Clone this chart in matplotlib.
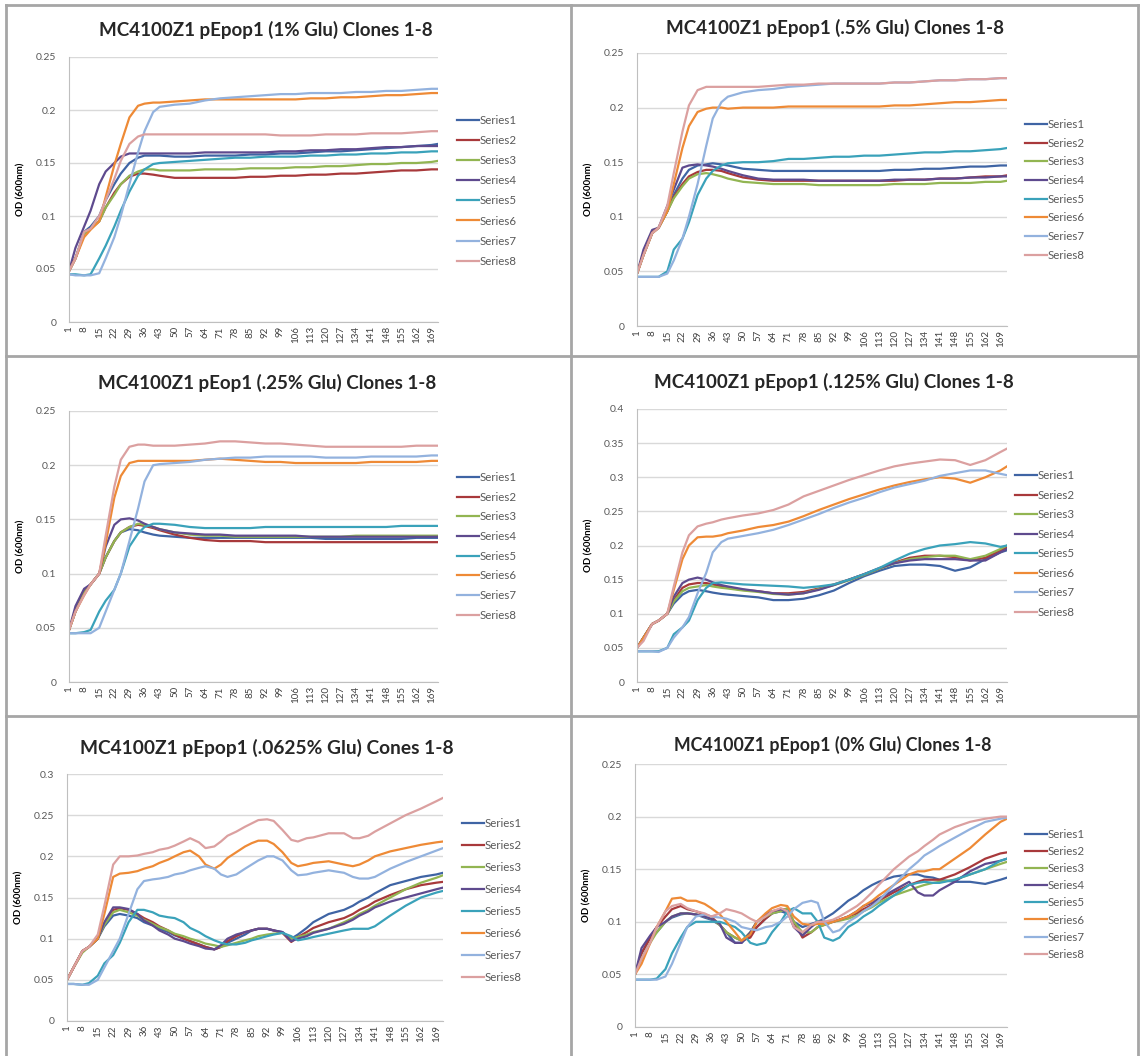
import matplotlib
matplotlib.use("Agg")
from matplotlib import pyplot as plt
from matplotlib.lines import Line2D

plt.rcParams['font.family'] = ['Lato', 'DejaVu Sans']

W, H = 1143, 1056

# time points (read at these positions)
X_A = [1, 4, 8, 11, 15, 18, 22, 25, 29, 33, 36, 40, 43, 50, 57, 64, 71, 78, 85, 92,
       99, 106, 113, 120, 127, 134, 141, 148, 155, 162, 169, 172]
X_B = [1, 4, 8, 11, 15, 18, 22, 25, 29, 33, 36, 40, 43, 47, 50, 54, 57, 61, 64, 68,
       71, 74, 78, 82, 85, 88, 92, 95, 99, 103, 106, 110, 113, 120, 127, 131, 134, 138,
       141, 148, 155, 162, 169, 172]
X_TICKS = list(range(1, 170, 7))
SERIES = ['Series1', 'Series2', 'Series3', 'Series4', 'Series5', 'Series6', 'Series7', 'Series8']
COLORS = ['#3F64A4', '#A8393B', '#92B552', '#5E4A8E', '#3AA2BA', '#EE8A36', '#93B2DE', '#DBA0A0']

# 1% Glu
g1_s1 = [0.048, 0.06, 0.085, 0.09, 0.1, 0.115, 0.13, 0.14, 0.15, 0.155, 0.157, 0.157, 0.157, 0.156, 0.156, 0.157,
         0.157, 0.157, 0.158, 0.158, 0.159, 0.159, 0.16, 0.161, 0.161, 0.162, 0.163, 0.164, 0.165, 0.166, 0.167, 0.168]
g1_s2 = [0.048, 0.06, 0.083, 0.088, 0.095, 0.108, 0.122, 0.13, 0.137, 0.14, 0.14, 0.139, 0.138, 0.136, 0.136, 0.136,
         0.136, 0.136, 0.137, 0.137, 0.138, 0.138, 0.139, 0.139, 0.14, 0.14, 0.141, 0.142, 0.143, 0.143, 0.144, 0.144]
g1_s3 = [0.048, 0.06, 0.083, 0.088, 0.095, 0.108, 0.12, 0.13, 0.138, 0.142, 0.144, 0.144, 0.143, 0.143, 0.143, 0.144,
         0.144, 0.144, 0.145, 0.145, 0.145, 0.146, 0.146, 0.147, 0.147, 0.148, 0.149, 0.149, 0.15, 0.15, 0.151, 0.152]
g1_s4 = [0.048, 0.07, 0.09, 0.105, 0.13, 0.142, 0.15, 0.156, 0.159, 0.159, 0.159, 0.159, 0.159, 0.159, 0.159, 0.16,
         0.16, 0.16, 0.16, 0.16, 0.161, 0.161, 0.162, 0.162, 0.163, 0.163, 0.164, 0.165, 0.165, 0.166, 0.166, 0.166]
g1_s5 = [0.045, 0.045, 0.044, 0.045, 0.06, 0.072, 0.09, 0.105, 0.123, 0.138, 0.144, 0.149, 0.15, 0.151, 0.152, 0.153,
         0.154, 0.155, 0.155, 0.156, 0.156, 0.156, 0.157, 0.157, 0.158, 0.158, 0.159, 0.159, 0.16, 0.16, 0.161, 0.161]
g1_s6 = [0.048, 0.06, 0.08, 0.087, 0.095, 0.118, 0.148, 0.168, 0.193, 0.204, 0.206, 0.207, 0.207, 0.208, 0.209, 0.21,
         0.21, 0.21, 0.21, 0.21, 0.21, 0.21, 0.211, 0.211, 0.212, 0.212, 0.213, 0.214, 0.214, 0.215, 0.216, 0.216]
g1_s7 = [0.045, 0.044, 0.044, 0.044, 0.046, 0.06, 0.08, 0.1, 0.13, 0.16, 0.18, 0.198, 0.203, 0.205, 0.206, 0.209,
         0.211, 0.212, 0.213, 0.214, 0.215, 0.215, 0.216, 0.216, 0.216, 0.217, 0.217, 0.218, 0.218, 0.219, 0.22, 0.22]
g1_s8 = [0.048, 0.06, 0.085, 0.088, 0.1, 0.115, 0.135, 0.152, 0.168, 0.175, 0.177, 0.177, 0.177, 0.177, 0.177, 0.177,
         0.177, 0.177, 0.177, 0.177, 0.176, 0.176, 0.176, 0.177, 0.177, 0.177, 0.178, 0.178, 0.178, 0.179, 0.18, 0.18]

# .5% Glu
g2_s1 = [0.048, 0.065, 0.085, 0.09, 0.105, 0.12, 0.135, 0.143, 0.147, 0.148, 0.149, 0.148, 0.147, 0.144, 0.143, 0.142,
         0.142, 0.142, 0.142, 0.142, 0.142, 0.142, 0.142, 0.143, 0.143, 0.144, 0.144, 0.145, 0.146, 0.146, 0.147, 0.147]
g2_s2 = [0.048, 0.065, 0.085, 0.09, 0.105, 0.118, 0.13, 0.137, 0.141, 0.143, 0.143, 0.142, 0.14, 0.136, 0.134, 0.133,
         0.133, 0.133, 0.133, 0.133, 0.133, 0.133, 0.133, 0.133, 0.134, 0.134, 0.135, 0.135, 0.136, 0.137, 0.137, 0.138]
g2_s3 = [0.048, 0.065, 0.085, 0.09, 0.105, 0.117, 0.128, 0.135, 0.139, 0.14, 0.139, 0.137, 0.135, 0.132, 0.131, 0.13,
         0.13, 0.13, 0.129, 0.129, 0.129, 0.129, 0.129, 0.13, 0.13, 0.13, 0.131, 0.131, 0.131, 0.132, 0.132, 0.133]
g2_s4 = [0.048, 0.07, 0.088, 0.09, 0.11, 0.125, 0.145, 0.147, 0.148, 0.147, 0.146, 0.144, 0.142, 0.138, 0.135, 0.134,
         0.134, 0.134, 0.133, 0.133, 0.133, 0.133, 0.133, 0.134, 0.134, 0.134, 0.135, 0.135, 0.136, 0.136, 0.137, 0.137]
g2_s5 = [0.045, 0.045, 0.045, 0.045, 0.05, 0.07, 0.08, 0.095, 0.12, 0.135, 0.142, 0.147, 0.149, 0.15, 0.15, 0.151,
         0.153, 0.153, 0.154, 0.155, 0.155, 0.156, 0.156, 0.157, 0.158, 0.159, 0.159, 0.16, 0.16, 0.161, 0.162, 0.163]
g2_s6 = [0.048, 0.065, 0.085, 0.09, 0.105, 0.13, 0.163, 0.183, 0.196, 0.199, 0.2, 0.2, 0.199, 0.2, 0.2, 0.2,
         0.201, 0.201, 0.201, 0.201, 0.201, 0.201, 0.201, 0.202, 0.202, 0.203, 0.204, 0.205, 0.205, 0.206, 0.207, 0.207]
g2_s7 = [0.045, 0.045, 0.045, 0.045, 0.048, 0.06, 0.08, 0.1, 0.13, 0.165, 0.19, 0.205, 0.21, 0.214, 0.216, 0.217,
         0.219, 0.22, 0.221, 0.222, 0.222, 0.222, 0.222, 0.223, 0.223, 0.224, 0.225, 0.225, 0.226, 0.226, 0.227, 0.227]
g2_s8 = [0.048, 0.065, 0.085, 0.09, 0.11, 0.14, 0.178, 0.202, 0.216, 0.219, 0.219, 0.219, 0.219, 0.219, 0.219, 0.22,
         0.221, 0.221, 0.222, 0.222, 0.222, 0.222, 0.222, 0.223, 0.223, 0.224, 0.225, 0.225, 0.226, 0.226, 0.227, 0.227]

# .25% Glu
g3_s1 = [0.048, 0.065, 0.085, 0.09, 0.1, 0.115, 0.13, 0.138, 0.141, 0.14, 0.138, 0.136, 0.135, 0.134, 0.133, 0.133,
         0.133, 0.133, 0.133, 0.133, 0.133, 0.133, 0.133, 0.132, 0.132, 0.132, 0.132, 0.132, 0.132, 0.133, 0.133, 0.133]
g3_s2 = [0.048, 0.065, 0.082, 0.09, 0.1, 0.115, 0.13, 0.138, 0.143, 0.145, 0.144, 0.142, 0.14, 0.136, 0.133, 0.131,
         0.13, 0.13, 0.13, 0.129, 0.129, 0.129, 0.129, 0.129, 0.129, 0.129, 0.129, 0.129, 0.129, 0.129, 0.129, 0.129]
g3_s3 = [0.048, 0.065, 0.082, 0.09, 0.1, 0.115, 0.13, 0.138, 0.143, 0.146, 0.145, 0.143, 0.141, 0.138, 0.136, 0.135,
         0.135, 0.134, 0.134, 0.134, 0.134, 0.134, 0.134, 0.134, 0.134, 0.135, 0.135, 0.135, 0.135, 0.135, 0.135, 0.135]
g3_s4 = [0.048, 0.07, 0.086, 0.09, 0.1, 0.125, 0.145, 0.15, 0.151, 0.149, 0.146, 0.143, 0.141, 0.138, 0.137, 0.136,
         0.136, 0.135, 0.135, 0.135, 0.135, 0.135, 0.134, 0.134, 0.134, 0.134, 0.134, 0.134, 0.134, 0.134, 0.134, 0.134]
g3_s5 = [0.045, 0.045, 0.046, 0.048, 0.065, 0.075, 0.085, 0.1, 0.125, 0.137, 0.143, 0.146, 0.146, 0.145, 0.143, 0.142,
         0.142, 0.142, 0.142, 0.143, 0.143, 0.143, 0.143, 0.143, 0.143, 0.143, 0.143, 0.143, 0.144, 0.144, 0.144, 0.144]
g3_s6 = [0.048, 0.065, 0.08, 0.09, 0.1, 0.128, 0.17, 0.19, 0.202, 0.204, 0.204, 0.204, 0.204, 0.204, 0.204, 0.205,
         0.206, 0.205, 0.204, 0.203, 0.203, 0.202, 0.202, 0.202, 0.202, 0.202, 0.203, 0.203, 0.203, 0.203, 0.204, 0.204]
g3_s7 = [0.045, 0.045, 0.045, 0.045, 0.05, 0.065, 0.085, 0.1, 0.13, 0.16, 0.185, 0.2, 0.201, 0.202, 0.203, 0.205,
         0.206, 0.207, 0.207, 0.208, 0.208, 0.208, 0.208, 0.207, 0.207, 0.207, 0.208, 0.208, 0.208, 0.208, 0.209, 0.209]
g3_s8 = [0.048, 0.065, 0.08, 0.09, 0.1, 0.135, 0.18, 0.205, 0.217, 0.219, 0.219, 0.218, 0.218, 0.218, 0.219, 0.22,
         0.222, 0.222, 0.221, 0.22, 0.22, 0.219, 0.218, 0.217, 0.217, 0.217, 0.217, 0.217, 0.217, 0.218, 0.218, 0.218]

# .125% Glu
g4_s1 = [0.05, 0.065, 0.085, 0.09, 0.1, 0.115, 0.128, 0.133, 0.135, 0.133, 0.131, 0.129, 0.128, 0.126, 0.124, 0.12,
         0.12, 0.122, 0.127, 0.134, 0.145, 0.155, 0.163, 0.17, 0.172, 0.172, 0.17, 0.163, 0.168, 0.18, 0.19, 0.193]
g4_s2 = [0.05, 0.065, 0.085, 0.09, 0.1, 0.12, 0.138, 0.143, 0.145, 0.145, 0.143, 0.14, 0.138, 0.135, 0.133, 0.13,
         0.13, 0.132, 0.137, 0.143, 0.15, 0.158, 0.166, 0.175, 0.182, 0.185, 0.185, 0.183, 0.178, 0.182, 0.193, 0.197]
g4_s3 = [0.05, 0.065, 0.085, 0.09, 0.1, 0.118, 0.133, 0.138, 0.14, 0.142, 0.14, 0.138, 0.137, 0.134, 0.132, 0.129,
         0.128, 0.13, 0.136, 0.142, 0.149, 0.157, 0.166, 0.174, 0.18, 0.183, 0.185, 0.185, 0.18, 0.185, 0.195, 0.2]
g4_s4 = [0.05, 0.065, 0.085, 0.09, 0.1, 0.125, 0.145, 0.15, 0.153, 0.15, 0.146, 0.142, 0.14, 0.136, 0.133, 0.13,
         0.128, 0.13, 0.135, 0.142, 0.15, 0.158, 0.167, 0.174, 0.178, 0.18, 0.18, 0.18, 0.178, 0.178, 0.19, 0.195]
g4_s5 = [0.045, 0.045, 0.045, 0.045, 0.05, 0.07, 0.08, 0.09, 0.12, 0.138, 0.145, 0.146, 0.145, 0.143, 0.142, 0.141,
         0.14, 0.138, 0.14, 0.143, 0.15, 0.158, 0.167, 0.178, 0.188, 0.195, 0.2, 0.202, 0.205, 0.203, 0.198, 0.2]
g4_s6 = [0.05, 0.065, 0.085, 0.09, 0.1, 0.135, 0.18, 0.2, 0.212, 0.213, 0.213, 0.215, 0.218, 0.222, 0.227, 0.23,
         0.235, 0.243, 0.252, 0.26, 0.268, 0.275, 0.282, 0.288, 0.293, 0.297, 0.3, 0.298, 0.292, 0.3, 0.31, 0.316]
g4_s7 = [0.045, 0.045, 0.045, 0.044, 0.05, 0.065, 0.08, 0.095, 0.13, 0.16, 0.19, 0.205, 0.21, 0.214, 0.218, 0.223,
         0.23, 0.238, 0.246, 0.255, 0.263, 0.27, 0.278, 0.285, 0.29, 0.295, 0.302, 0.306, 0.31, 0.31, 0.305, 0.303]
g4_s8 = [0.05, 0.06, 0.085, 0.09, 0.1, 0.14, 0.19, 0.215, 0.228, 0.232, 0.234, 0.238, 0.24, 0.244, 0.247, 0.252,
         0.26, 0.272, 0.28, 0.288, 0.296, 0.303, 0.31, 0.316, 0.32, 0.323, 0.326, 0.325, 0.318, 0.325, 0.337, 0.342]

# .0625% Glu
g5_s1 = [0.05, 0.065, 0.085, 0.09, 0.1, 0.115, 0.128, 0.13, 0.128, 0.125, 0.12, 0.116, 0.112, 0.108, 0.104, 0.1,
         0.097, 0.093, 0.09, 0.087, 0.09, 0.095, 0.1, 0.105, 0.11, 0.112, 0.112, 0.11, 0.108, 0.1, 0.105, 0.113,
         0.12, 0.13, 0.135, 0.14, 0.145, 0.15, 0.155, 0.165, 0.17, 0.175, 0.178, 0.18]
g5_s2 = [0.05, 0.065, 0.085, 0.09, 0.1, 0.118, 0.135, 0.137, 0.135, 0.13, 0.125, 0.12, 0.115, 0.11, 0.105, 0.1,
         0.097, 0.093, 0.09, 0.087, 0.09, 0.097, 0.103, 0.108, 0.11, 0.112, 0.112, 0.11, 0.107, 0.096, 0.102, 0.108,
         0.113, 0.12, 0.125, 0.13, 0.135, 0.14, 0.145, 0.153, 0.16, 0.165, 0.168, 0.169]
g5_s3 = [0.05, 0.065, 0.083, 0.09, 0.1, 0.117, 0.132, 0.135, 0.132, 0.128, 0.123, 0.118, 0.114, 0.11, 0.106, 0.103,
         0.1, 0.097, 0.094, 0.092, 0.09, 0.092, 0.095, 0.098, 0.1, 0.103, 0.105, 0.106, 0.107, 0.1, 0.102, 0.105,
         0.108, 0.112, 0.12, 0.125, 0.13, 0.135, 0.14, 0.15, 0.16, 0.168, 0.174, 0.177]
g5_s4 = [0.05, 0.065, 0.085, 0.09, 0.1, 0.12, 0.138, 0.138, 0.136, 0.13, 0.122, 0.116, 0.11, 0.105, 0.1, 0.097,
         0.094, 0.091, 0.088, 0.087, 0.092, 0.1, 0.105, 0.108, 0.11, 0.112, 0.112, 0.11, 0.108, 0.097, 0.1, 0.103,
         0.107, 0.112, 0.118, 0.123, 0.128, 0.133, 0.138, 0.145, 0.15, 0.155, 0.16, 0.162]
g5_s5 = [0.045, 0.045, 0.044, 0.046, 0.055, 0.07, 0.08, 0.095, 0.12, 0.135, 0.135, 0.132, 0.128, 0.126, 0.125, 0.12,
         0.113, 0.108, 0.103, 0.098, 0.095, 0.093, 0.093, 0.095, 0.098, 0.1, 0.103, 0.105, 0.107, 0.103, 0.098, 0.1,
         0.102, 0.106, 0.11, 0.112, 0.112, 0.112, 0.115, 0.128, 0.14, 0.15, 0.156, 0.158]
g5_s6 = [0.05, 0.065, 0.085, 0.09, 0.1, 0.13, 0.175, 0.179, 0.18, 0.182, 0.185, 0.188, 0.192, 0.196, 0.2, 0.205,
         0.207, 0.2, 0.19, 0.185, 0.19, 0.198, 0.205, 0.212, 0.216, 0.219, 0.219, 0.215, 0.205, 0.192, 0.188, 0.19,
         0.192, 0.194, 0.19, 0.188, 0.19, 0.195, 0.2, 0.206, 0.21, 0.214, 0.217, 0.218]
g5_s7 = [0.045, 0.045, 0.044, 0.044, 0.05, 0.065, 0.085, 0.1, 0.13, 0.16, 0.17, 0.172, 0.173, 0.175, 0.178, 0.18,
         0.183, 0.186, 0.188, 0.185, 0.178, 0.175, 0.178, 0.185, 0.19, 0.195, 0.2, 0.2, 0.195, 0.183, 0.177, 0.178,
         0.18, 0.183, 0.18, 0.175, 0.173, 0.173, 0.175, 0.185, 0.193, 0.2, 0.207, 0.21]
g5_s8 = [0.05, 0.065, 0.085, 0.09, 0.105, 0.14, 0.19, 0.2, 0.2, 0.201, 0.203, 0.205, 0.208, 0.21, 0.213, 0.218,
         0.222, 0.217, 0.21, 0.212, 0.218, 0.225, 0.23, 0.236, 0.24, 0.244, 0.245, 0.243, 0.232, 0.22, 0.218, 0.222,
         0.223, 0.228, 0.228, 0.222, 0.222, 0.225, 0.23, 0.24, 0.25, 0.258, 0.267, 0.271]

# 0% Glu
g6_s1 = [0.05, 0.07, 0.085, 0.09, 0.1, 0.104, 0.107, 0.108, 0.107, 0.104, 0.102, 0.097, 0.09, 0.08, 0.08, 0.088,
         0.095, 0.103, 0.108, 0.11, 0.108, 0.1, 0.095, 0.098, 0.1, 0.103, 0.108, 0.113, 0.12, 0.125, 0.13, 0.135,
         0.138, 0.143, 0.145, 0.145, 0.143, 0.142, 0.14, 0.138, 0.138, 0.136, 0.14, 0.142]
g6_s2 = [0.05, 0.07, 0.085, 0.095, 0.105, 0.112, 0.115, 0.112, 0.11, 0.107, 0.105, 0.097, 0.09, 0.085, 0.082, 0.085,
         0.095, 0.103, 0.108, 0.112, 0.112, 0.1, 0.085, 0.09, 0.095, 0.097, 0.1, 0.102, 0.105, 0.108, 0.112, 0.116,
         0.12, 0.128, 0.135, 0.138, 0.14, 0.14, 0.14, 0.145, 0.152, 0.16, 0.165, 0.166]
g6_s3 = [0.05, 0.065, 0.08, 0.09, 0.1, 0.105, 0.108, 0.108, 0.107, 0.105, 0.103, 0.097, 0.09, 0.085, 0.082, 0.09,
         0.1, 0.105, 0.108, 0.11, 0.113, 0.1, 0.09, 0.09, 0.095, 0.097, 0.1, 0.101, 0.103, 0.106, 0.11, 0.114,
         0.118, 0.125, 0.13, 0.133, 0.135, 0.137, 0.138, 0.14, 0.145, 0.15, 0.155, 0.157]
g6_s4 = [0.05, 0.075, 0.087, 0.095, 0.1, 0.105, 0.108, 0.108, 0.107, 0.105, 0.103, 0.098, 0.085, 0.08, 0.08, 0.09,
         0.1, 0.107, 0.11, 0.112, 0.11, 0.095, 0.087, 0.095, 0.1, 0.1, 0.1, 0.102, 0.105, 0.11, 0.115, 0.118,
         0.122, 0.13, 0.138, 0.128, 0.125, 0.125, 0.13, 0.138, 0.148, 0.155, 0.158, 0.16]
g6_s5 = [0.045, 0.045, 0.045, 0.046, 0.055, 0.07, 0.085, 0.095, 0.1, 0.1, 0.1, 0.1, 0.098, 0.095, 0.09, 0.08,
         0.078, 0.08, 0.09, 0.1, 0.11, 0.113, 0.108, 0.108, 0.1, 0.085, 0.082, 0.085, 0.095, 0.1, 0.105, 0.11,
         0.115, 0.125, 0.135, 0.137, 0.138, 0.137, 0.137, 0.14, 0.145, 0.15, 0.158, 0.16]
g6_s6 = [0.05, 0.06, 0.08, 0.095, 0.11, 0.122, 0.123, 0.12, 0.12, 0.117, 0.113, 0.107, 0.1, 0.09, 0.082, 0.088,
         0.1, 0.108, 0.113, 0.116, 0.115, 0.105, 0.098, 0.097, 0.098, 0.098, 0.1, 0.102, 0.105, 0.11, 0.115, 0.12,
         0.125, 0.135, 0.145, 0.148, 0.148, 0.15, 0.15, 0.16, 0.17, 0.183, 0.195, 0.198]
g6_s7 = [0.045, 0.045, 0.045, 0.045, 0.048, 0.06, 0.08, 0.095, 0.105, 0.107, 0.105, 0.104, 0.103, 0.1, 0.095, 0.093,
         0.092, 0.095, 0.096, 0.1, 0.105, 0.112, 0.118, 0.12, 0.118, 0.1, 0.09, 0.092, 0.1, 0.105, 0.11, 0.115,
         0.12, 0.135, 0.15, 0.157, 0.163, 0.168, 0.172, 0.18, 0.188, 0.195, 0.198, 0.199]
g6_s8 = [0.05, 0.065, 0.08, 0.095, 0.11, 0.115, 0.117, 0.113, 0.11, 0.108, 0.105, 0.108, 0.112, 0.11, 0.108, 0.103,
         0.1, 0.105, 0.11, 0.113, 0.11, 0.095, 0.09, 0.097, 0.1, 0.1, 0.102, 0.105, 0.11, 0.115, 0.12, 0.128,
         0.135, 0.15, 0.162, 0.167, 0.172, 0.178, 0.183, 0.19, 0.195, 0.198, 0.2, 0.2]

TITLES = ['MC4100Z1 pEpop1 (1% Glu) Clones 1-8',
          'MC4100Z1 pEpop1 (.5% Glu) Clones 1-8',
          'MC4100Z1 pEop1 (.25% Glu) Clones 1-8',
          'MC4100Z1 pEpop1 (.125% Glu) Clones 1-8',
          'MC4100Z1 pEpop1 (.0625% Glu) Cones 1-8',
          'MC4100Z1 pEpop1 (0% Glu) Clones 1-8']
Y_MAX = [0.25, 0.25, 0.25, 0.4, 0.3, 0.25]


def main():
    data = [
        (X_A, [g1_s1, g1_s2, g1_s3, g1_s4, g1_s5, g1_s6, g1_s7, g1_s8]),
        (X_A, [g2_s1, g2_s2, g2_s3, g2_s4, g2_s5, g2_s6, g2_s7, g2_s8]),
        (X_A, [g3_s1, g3_s2, g3_s3, g3_s4, g3_s5, g3_s6, g3_s7, g3_s8]),
        (X_A, [g4_s1, g4_s2, g4_s3, g4_s4, g4_s5, g4_s6, g4_s7, g4_s8]),
        (X_B, [g5_s1, g5_s2, g5_s3, g5_s4, g5_s5, g5_s6, g5_s7, g5_s8]),
        (X_B, [g6_s1, g6_s2, g6_s3, g6_s4, g6_s5, g6_s6, g6_s7, g6_s8]),
    ]
    # plot boxes in pixels: left, right, top(ymax), bottom(0)
    boxes = [(69, 438, 57, 322), (637, 1007, 53, 326),
             (69, 438, 411, 682), (637, 1007, 409, 682),
             (67, 443, 774, 1021), (635, 1007, 764, 1027)]
    # title centre x, y
    title_pos = [(266, 30), (835, 28), (267, 383), (834, 382), (267, 748), (833, 745)]
    title_size = [13.5, 13.5, 13.5, 13.5, 13.8, 12.8]
    # legend: handle x, first row y, last row y
    legend_pos = [(457, 122, 280), (1025, 126, 274), (457, 479, 634),
                  (1015, 477, 631), (462, 825, 996), (1025, 836, 973)]

    fig = plt.figure(figsize=(W / 100, H / 100), dpi=100)
    fig.patch.set_facecolor('white')

    for i, (xs, series) in enumerate(data):
        l, r, t, b = boxes[i]
        ax = fig.add_axes([l / W, 1 - b / H, (r - l) / W, (b - t) / H])
        for j, ys in enumerate(series):
            ax.plot(xs, ys, color=COLORS[j], lw=1.6, label=SERIES[j])
        ax.set_xlim(1, 172)
        ax.set_ylim(0, Y_MAX[i])
        yt = [k * 0.05 for k in range(int(round(Y_MAX[i] / 0.05)) + 1)]
        ax.set_yticks(yt)
        ax.set_yticklabels(['0' if v == 0 else ('%.2f' % v).rstrip('0') for v in yt],
                           fontsize=7.5, color='#595959')
        ax.set_xticks(X_TICKS)
        ax.set_xticklabels([str(v) for v in X_TICKS], rotation=90, fontsize=7, color='#404040')
        ax.grid(axis='y', color='#D9D9D9', lw=1.0)
        ax.set_axisbelow(True)
        for s in ['top', 'right']:
            ax.spines[s].set_visible(False)
        ax.spines['left'].set_color('#BFBFBF')
        ax.spines['bottom'].set_color('#BFBFBF')
        ax.tick_params(axis='y', length=0, pad=9)
        ax.tick_params(axis='x', length=0, pad=3)
        ax.set_ylabel('OD (600nm)', fontsize=7, fontweight='bold', labelpad=8)

        tx, ty = title_pos[i]
        fig.text(tx / W, 1 - ty / H, TITLES[i], ha='center', va='center',
                 fontsize=title_size[i], fontweight='bold', color='#262626')

        hx, y1, y8 = legend_pos[i]
        fs = 8.3
        fpx = fs * 100 / 72
        row = (y8 - y1) / 7
        spacing = (row - fpx * 1.17) / fpx
        ax.legend(loc='upper left', bbox_to_anchor=(hx / W, 1 - (y1 - fpx * 0.6) / H),
                  bbox_transform=fig.transFigure, frameon=False, fontsize=fs,
                  handlelength=1.9, handletextpad=0.1, labelspacing=spacing,
                  borderpad=0, borderaxespad=0, labelcolor='#595959')

    grey = '#A6A6A6'
    for y in [5, 356, 716]:
        fig.add_artist(Line2D([6 / W, 1138 / W], [1 - y / H, 1 - y / H], color=grey, lw=2))
    for x in [6, 571, 1138]:
        fig.add_artist(Line2D([x / W, x / W], [1 - 5 / H, 0], color=grey, lw=2))

    fig.savefig('out.png', dpi=100)


if __name__ == "__main__":
    main()
